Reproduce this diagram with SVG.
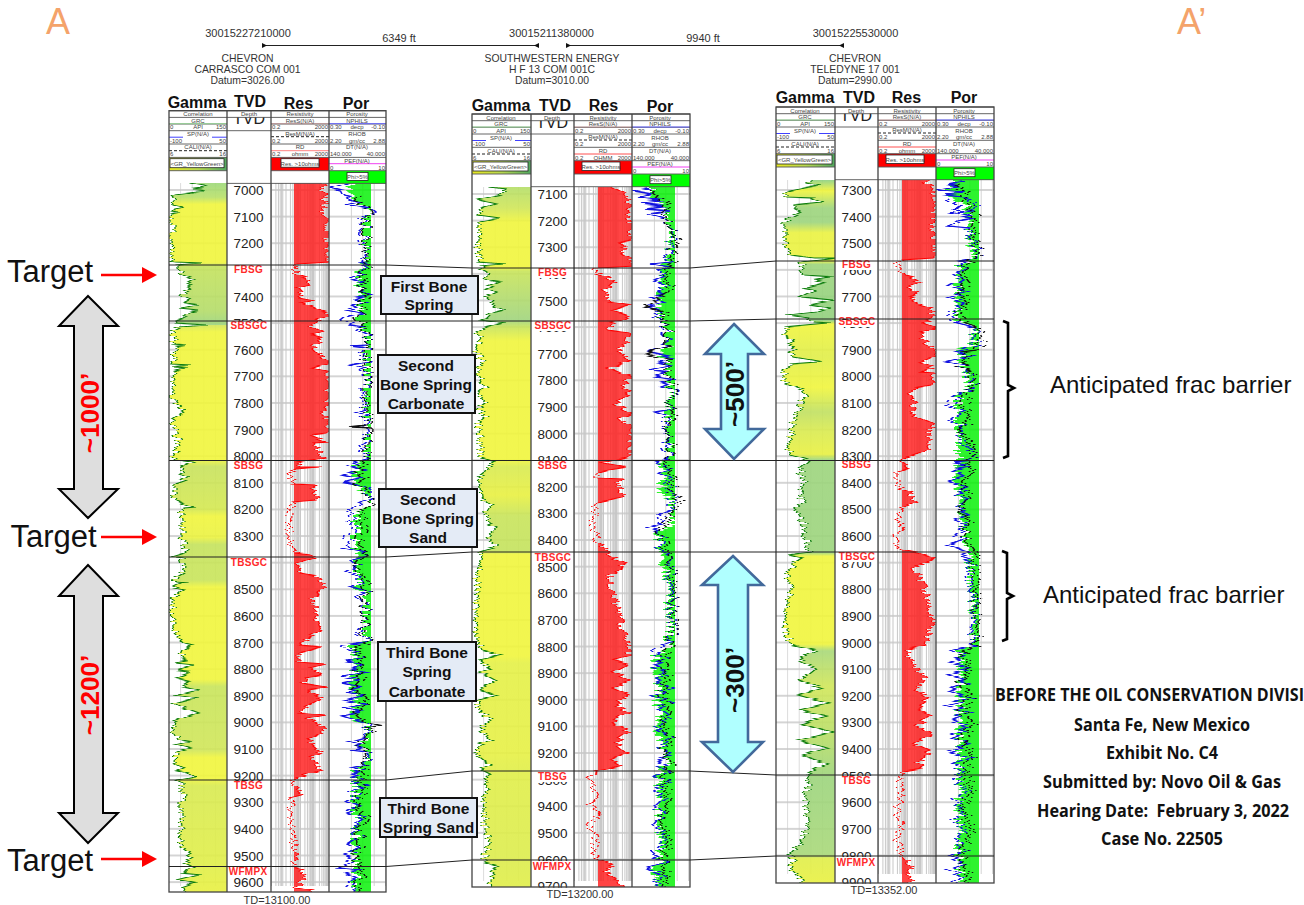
<svg xmlns="http://www.w3.org/2000/svg" width="1304" height="905" viewBox="0 0 1304 905">
<style>
text{font-family:"Liberation Sans",Arial,sans-serif}
.top{font-size:11px;fill:#333;text-anchor:middle}
.nm{font-size:10.4px;fill:#333;text-anchor:middle}
.tt{font-size:16px;font-weight:700;fill:#111;text-anchor:middle}
.t{font-size:6px;fill:#444;text-anchor:middle}
.ts{text-anchor:start}.te{text-anchor:end}
.hl{stroke:#555;stroke-width:.9;fill:none}
.fr{stroke:#444;stroke-width:1.3;fill:none}
.d{font-family:"Noto Sans","Open Sans",sans-serif;font-size:13.5px;fill:#222;text-anchor:middle}
.fm{font-size:10px;font-weight:700;fill:#ff2a2a;text-anchor:middle;letter-spacing:.3px}
.gr{stroke:#0c7c0c;stroke-width:1.2;fill-opacity:.9}
.rf{fill:#ff2020;fill-opacity:.84}
.rs{fill:none;stroke:#f00;stroke-width:1.1}
.bl{fill:none;stroke:#1212e0;stroke-width:1.5}
.bk{fill:none;stroke:#111;stroke-width:1.4}
.gf{fill:#00f000;fill-opacity:.82}
.box{fill:#e4ebf6;stroke:#111;stroke-width:2}
.bt{font-size:15.5px;font-weight:700;fill:#111;text-anchor:middle}
.tg{font-size:31px;fill:#111}
.rar{stroke:#f00;stroke-width:2.6;marker-end:url(#rh)}
.ga{fill:#dedede;stroke:#000;stroke-width:2}
.ba{fill:#b0ffff;stroke:#42699b;stroke-width:2.6}
.ra{font-size:26px;font-weight:700;text-anchor:middle}
.br{fill:none;stroke:#000;stroke-width:2.6}
.ab{font-size:24px;fill:#111}
.cal{font-family:"Open Sans","Noto Sans",sans-serif;font-size:17.5px;font-weight:700;fill:#111;white-space:pre}
.c{fill:none;stroke:#222;stroke-width:1}
</style>
<defs>
<marker id="rh" markerUnits="userSpaceOnUse" markerWidth="16" markerHeight="18" refX="1" refY="8" orient="auto"><path d="M0 0L15 8L0 16Z" fill="#f00"/></marker>
<marker id="ka" markerUnits="userSpaceOnUse" markerWidth="6" markerHeight="6" refX="3" refY="3" orient="auto-start-reverse"><path d="M6 0.5L1 3L6 5.5Z" fill="#111"/></marker>
<filter id="n1" filterUnits="userSpaceOnUse" x="0" y="0" width="1304" height="905" color-interpolation-filters="sRGB">
<feTurbulence type="fractalNoise" baseFrequency="0.004 0.45" numOctaves="2" seed="4" result="t"/>
<feColorMatrix in="t" type="matrix" values="2.6 0 0 0 -.8 0 0 0 0 .5 0 0 0 0 .5 0 0 0 0 1" result="m"/>
<feDisplacementMap in="SourceGraphic" in2="m" scale="8" xChannelSelector="R" yChannelSelector="G"/>
</filter>
<filter id="n2" filterUnits="userSpaceOnUse" x="0" y="0" width="1304" height="905" color-interpolation-filters="sRGB">
<feTurbulence type="fractalNoise" baseFrequency="0.004 0.42" numOctaves="2" seed="11" result="t"/>
<feColorMatrix in="t" type="matrix" values="2.6 0 0 0 -.8 0 0 0 0 .5 0 0 0 0 .5 0 0 0 0 1" result="m"/>
<feDisplacementMap in="SourceGraphic" in2="m" scale="11" xChannelSelector="R" yChannelSelector="G"/>
</filter>
<linearGradient id="hg"><stop offset="0" stop-color="#e8e820"/><stop offset=".5" stop-color="#b8d850"/><stop offset="1" stop-color="#50a860"/></linearGradient>
<linearGradient id="g1" gradientUnits="userSpaceOnUse" x1="0" y1="183" x2="0" y2="892">
<stop offset="0" stop-color="#9cd878"/><stop offset=".02" stop-color="#b8e068"/><stop offset=".03" stop-color="#f0f53c"/><stop offset=".112" stop-color="#f0f53c"/><stop offset=".117" stop-color="#c4e25c"/><stop offset=".18" stop-color="#b4dc68"/><stop offset=".2" stop-color="#9cd47c"/><stop offset=".2" stop-color="#d0e458"/><stop offset=".21" stop-color="#f0f53c"/><stop offset=".39" stop-color="#f0f53c"/><stop offset=".4" stop-color="#c8e25c"/><stop offset=".46" stop-color="#d4e850"/><stop offset=".47" stop-color="#f0f53c"/><stop offset=".5" stop-color="#eaf240"/><stop offset=".51" stop-color="#c4e25c"/><stop offset=".54" stop-color="#c8e45a"/><stop offset=".56" stop-color="#c8e45a"/><stop offset=".57" stop-color="#f0f53c"/><stop offset=".7" stop-color="#f0f53c"/><stop offset=".71" stop-color="#c8e45a"/><stop offset=".8" stop-color="#d0e658"/><stop offset=".81" stop-color="#f0f53c"/><stop offset=".84" stop-color="#f0f53c"/><stop offset=".85" stop-color="#d8ea50"/><stop offset=".96" stop-color="#e0ee48"/><stop offset="1" stop-color="#e8f040"/>
</linearGradient>
<linearGradient id="g2" gradientUnits="userSpaceOnUse" x1="0" y1="187" x2="0" y2="887">
<stop offset="0" stop-color="#b4de68"/><stop offset=".03" stop-color="#d0e658"/><stop offset=".05" stop-color="#f0f53c"/><stop offset=".115" stop-color="#f0f53c"/><stop offset=".12" stop-color="#c8e45a"/><stop offset=".19" stop-color="#a0d47c"/><stop offset=".2" stop-color="#c8e45a"/><stop offset=".22" stop-color="#f0f53c"/><stop offset=".39" stop-color="#f0f53c"/><stop offset=".4" stop-color="#d8ea50"/><stop offset=".44" stop-color="#e8f040"/><stop offset=".47" stop-color="#c8e45a"/><stop offset=".52" stop-color="#c4e25c"/><stop offset=".525" stop-color="#f0f53c"/><stop offset=".67" stop-color="#f0f53c"/><stop offset=".68" stop-color="#e4f046"/><stop offset=".81" stop-color="#e6f044"/><stop offset=".835" stop-color="#e0ee48"/><stop offset=".96" stop-color="#dcec4c"/><stop offset="1" stop-color="#e0ee48"/>
</linearGradient>
<linearGradient id="g3" gradientUnits="userSpaceOnUse" x1="0" y1="180" x2="0" y2="883">
<stop offset="0" stop-color="#8cd080"/><stop offset=".015" stop-color="#f0f53c"/><stop offset=".04" stop-color="#9cd47c"/><stop offset=".06" stop-color="#9cd47c"/><stop offset=".075" stop-color="#eaf240"/><stop offset=".115" stop-color="#eaf240"/><stop offset=".12" stop-color="#9cd47c"/><stop offset=".2" stop-color="#90d07c"/><stop offset=".205" stop-color="#f0f53c"/><stop offset=".25" stop-color="#e0ee48"/><stop offset=".295" stop-color="#f0f53c"/><stop offset=".33" stop-color="#c0e060"/><stop offset=".355" stop-color="#d8ea50"/><stop offset=".39" stop-color="#e8f040"/><stop offset=".398" stop-color="#9cd47c"/><stop offset=".53" stop-color="#9cd47c"/><stop offset=".535" stop-color="#f0f53c"/><stop offset=".66" stop-color="#f0f53c"/><stop offset=".67" stop-color="#a8d878"/><stop offset=".72" stop-color="#d0e658"/><stop offset=".8" stop-color="#b4dc68"/><stop offset=".85" stop-color="#9cd47c"/><stop offset=".96" stop-color="#a8d878"/><stop offset=".965" stop-color="#e0ee48"/><stop offset="1" stop-color="#e8f040"/>
</linearGradient>
<pattern id="pG" patternUnits="userSpaceOnUse" width="58" height="26.62"><path d="M11.6 0V26.62M23.2 0V26.62M34.8 0V26.62M46.4 0V26.62" stroke="#dcdcdc" stroke-width="1" fill="none"/><path d="M0 1H58" stroke="#c6c6c6" stroke-width="1.6"/></pattern>
<pattern id="pR" patternUnits="userSpaceOnUse" width="58" height="26.62"><path d="M1 0V27M5.4 0V27M7.9 0V27M9.7 0V27M11.1 0V27M12.3 0V27M13.3 0V27M14.1 0V27M15.5 0V27M19.9 0V27M22.4 0V27M24.2 0V27M25.6 0V27M26.8 0V27M27.8 0V27M28.6 0V27M30 0V27M34.4 0V27M36.9 0V27M38.7 0V27M40.1 0V27M41.3 0V27M42.3 0V27M43.1 0V27M44.5 0V27M48.9 0V27M51.4 0V27M53.2 0V27M54.6 0V27M55.8 0V27" stroke="#c8c8c8" stroke-width="1" fill="none"/><path d="M0 1H58" stroke="#c6c6c6" stroke-width="1.6"/></pattern>
<pattern id="pP" patternUnits="userSpaceOnUse" width="57" height="26.62"><path d="M11.4 0V27M22.8 0V27M34.2 0V27M45.6 0V27" stroke="#d4d4d4" stroke-width="1" fill="none"/><path d="M0 1H57" stroke="#c6c6c6" stroke-width="1.6"/></pattern>
<clipPath id="ca1"><rect x="169" y="183" width="58" height="709"/></clipPath>
<clipPath id="cb1"><rect x="271" y="183" width="58" height="709"/></clipPath>
<clipPath id="cc1"><rect x="294" y="183" width="35" height="709"/></clipPath>
<clipPath id="cd1"><rect x="329" y="183" width="57" height="709"/></clipPath>
<clipPath id="ce1"><rect x="329" y="183" width="42" height="709"/></clipPath>
<clipPath id="ca2"><rect x="472" y="187" width="59" height="700"/></clipPath>
<clipPath id="cb2"><rect x="574" y="187" width="58" height="700"/></clipPath>
<clipPath id="cc2"><rect x="598" y="187" width="34" height="700"/></clipPath>
<clipPath id="cd2"><rect x="632" y="187" width="58" height="700"/></clipPath>
<clipPath id="ce2"><rect x="632" y="187" width="43" height="700"/></clipPath>
<clipPath id="ca3"><rect x="776" y="180" width="59" height="703"/></clipPath>
<clipPath id="cb3"><rect x="878" y="180" width="58" height="703"/></clipPath>
<clipPath id="cc3"><rect x="902" y="180" width="34" height="703"/></clipPath>
<clipPath id="cd3"><rect x="936" y="180" width="58" height="703"/></clipPath>
<clipPath id="ce3"><rect x="936" y="180" width="43" height="703"/></clipPath>
<clipPath id="tvdc"><rect x="58" y="6.7" width="44" height="13.3"/></clipPath>
<polygon id="r1" points="325,175 325,185 322,190 327,195 323,200 325,205 323,210 327,220 327,240 327,262 295,264 295,265 293,268 298,275 310,279 308,285 298,288 303,293 298,298 313,301 303,303 312,307 318,310 328,313 325,317 318,320 315,323 312,327 322,332 312,335 323,338 312,347 315,350 322,357 328,363 312,368 328,372 328,393 328,403 320,413 328,420 328,433 310,435 328,442 312,443 318,450 322,458 300,462 297,467 319,467 297,469 288,473 293,480 295,484 318,485 312,490 313,493 317,500 294,502 292,507 290,513 289,537 293,548 297,553 312,555 312,558 297,563 300,573 317,576 320,580 323,590 313,597 315,613 322,630 308,638 298,645 322,647 300,653 300,662 328,664 312,668 322,675 305,678 303,683 328,687 307,690 322,697 305,707 302,713 322,715 308,718 322,727 323,733 308,740 322,752 312,757 320,770 305,775 298,778 293,782 295,788 303,795 292,798 290,810 292,827 293,840 297,857 293,867 302,870 303,877 297,888 310,890 312,900 260,900 260,175"/>
<polygon id="r2" points="612,180 612,187 622,192 628,200 632,208 625,215 630,225 632,235 630,240 615,243 625,248 622,252 632,258 632,266 595,268 596,273 606,277 613,283 603,292 606,297 610,302 631,305 615,310 630,315 621,320 611,323 610,330 631,333 628,342 618,348 631,360 610,368 631,377 621,387 631,393 615,403 631,413 621,418 631,427 631,457 603,463 625,467 606,470 595,473 595,478 620,479 618,487 626,497 598,503 595,508 593,523 595,533 598,543 605,550 610,556 625,564 610,575 612,590 620,620 625,640 630,655 612,660 628,665 615,672 630,680 612,688 628,695 615,705 628,712 612,722 630,732 615,742 628,752 610,760 620,766 598,771 590,778 592,790 597,800 590,805 598,815 590,825 596,840 592,852 600,860 612,866 605,872 620,880 625,890 560,900 560,175"/>
<polygon id="r3" points="925,175 925,182 930,185 935,195 933,230 935,240 935,258 900,260 897,265 903,272 902,275 910,277 919,282 910,287 919,295 909,298 919,305 929,308 932,313 935,318 922,323 935,328 919,333 920,338 932,347 935,355 919,362 932,367 922,372 935,373 932,385 915,388 907,395 915,403 910,412 919,418 930,423 932,427 929,435 929,445 925,452 905,459 902,462 909,468 897,472 897,482 900,488 909,492 914,502 900,510 898,518 905,525 897,532 898,545 903,550 919,553 935,558 915,568 925,590 932,620 925,645 905,650 915,665 925,680 918,690 930,698 916,708 932,715 918,725 930,735 915,745 930,752 918,762 925,768 902,772 898,780 903,795 896,810 901,825 897,840 902,853 905,858 912,866 906,874 912,883 905,900 860,900 860,175"/>
<polygon id="p1g" points="350,175 350,183 352,195 362,205 366,215 367,260 360,265 358,290 360,320 364,328 367,336 367,460 355,465 358,490 368,495 368,505 355,515 355,550 358,560 358,590 367,595 367,640 352,645 355,720 368,725 368,740 358,745 367,755 367,765 355,770 355,900 400,900 400,175"/>
<polygon id="p2g" points="650,175 650,195 660,205 668,212 670,260 662,268 660,320 668,328 670,345 660,355 668,362 670,460 660,465 662,495 672,500 672,525 656,535 660,552 668,590 668,650 655,655 658,740 668,760 658,772 660,860 655,870 660,900 710,900 710,175"/>
<polygon id="p3g" points="950,172 950,195 965,205 968,225 972,260 958,265 956,320 974,326 972,345 958,350 965,370 970,388 958,395 958,460 955,470 962,520 968,552 972,600 974,645 960,650 958,855 962,900 1010,900 1010,172"/>
</defs>

<g id="title-a"><text x="46" y="34" font-size="36" fill="#f4a36a">A</text><text x="1177" y="34" font-size="36" fill="#f4a36a">A’</text></g>

<g id="well-1">
<text class="top" x="248" y="37">30015227210000</text>
<text class="nm" x="247.500" y="62">CHEVRON</text><text class="nm" x="247.500" y="72.500">CARRASCO COM 001</text><text class="nm" x="247.500" y="84">Datum=3026.00</text>
<text class="tt" x="197" y="108">Gamma</text><text class="tt" x="250" y="107">TVD</text><text class="tt" x="298.500" y="109">Res</text><text class="tt" x="356" y="109">Por</text>
<rect x="169" y="110.700" width="217" height="781.300" fill="#fff"/>
<g transform="translate(169,189)"><rect x="0" y="-6" width="58" height="703" fill="url(#pG)"/><rect x="102" y="-6" width="58" height="703" fill="url(#pR)"/><rect x="160" y="-6" width="57" height="703" fill="url(#pP)"/></g>
<g clip-path="url(#ca1)"><polygon class="gr" fill="url(#g1)" filter="url(#n1)" points="190,175 190,183 200,185 205,187 190,189 205,191 190,193 175,195 173,197 172,200 173,205 181,207 172,209 174,211 181,212 171,214 172,218 172,240 173,255 172,261 178,262 203,263 180,265 180,268 182,275 192,279 185,283 193,287 185,292 182,296 188,300 182,303 197,305 183,308 202,310 188,313 188,315 182,318 172,321 173,323 207,325 180,327 172,331 174,340 173,344 188,345 174,347 175,360 173,364 192,365 174,367 187,368 172,372 175,380 173,400 175,403 185,412 173,420 175,433 180,443 173,457 176,460 192,462 182,467 180,473 188,477 184,480 173,484 173,493 175,500 192,507 180,508 182,520 182,537 185,550 188,553 175,557 182,558 185,567 182,573 175,577 173,582 183,583 173,588 183,590 172,600 173,627 175,633 185,643 193,645 183,650 180,657 188,660 173,663 192,665 175,670 193,672 175,678 192,682 183,687 197,690 177,695 195,698 175,703 182,707 198,713 185,717 175,722 173,730 178,740 190,742 178,745 188,748 175,752 174,763 182,767 175,770 188,773 193,777 178,780 183,783 183,793 182,803 182,817 183,827 180,847 193,857 185,862 193,866 180,873 200,875 180,880 195,883 180,888 183,895 183,900 240,900 240,175"/></g>
<g clip-path="url(#cc1)"><use href="#r1" class="rf" filter="url(#n1)"/></g>
<g clip-path="url(#cb1)"><use href="#r1" class="rs" filter="url(#n1)"/></g>
<g clip-path="url(#ce1)"><use href="#p1g" class="gf" filter="url(#n2)"/></g>
<g clip-path="url(#cd1)">
<polyline class="bl" filter="url(#n2)" points="345,183 333,188 345,191 343,195 350,197 353,200 360,202 350,205 365,208 370,212 363,218 365,225 363,240 366,250 362,262 368,263 360,266 365,272 352,279 365,283 358,290 368,295 352,298 362,302 347,310 360,313 350,316 345,320 352,325 365,327 360,332 368,336 366,345 350,346 366,348 362,356 367,362 352,365 360,368 365,372 366,380 363,395 365,410 358,413 365,416 362,428 366,440 360,445 368,458 360,461 350,466 362,470 347,475 360,478 345,482 362,485 368,490 368,498 357,503 350,512 352,525 349,535 346,548 362,552 366,556 355,560 361,565 350,572 358,577 358,583 354,586 367,590 358,595 366,605 366,625 360,634 367,642 345,645 348,650 355,652 360,658 346,661 360,664 350,668 362,672 344,676 360,680 347,683 365,687 348,692 362,695 345,700 362,704 346,708 365,712 347,716 366,722 368,730 366,738 352,742 362,746 350,750 365,752 368,756 368,765 355,768 362,771 350,775 360,778 356,782 365,785 352,790 358,797 350,802 360,806 349,812 360,817 352,822 358,827 355,832 361,838 350,845 358,850 345,856 352,860 340,868 357,870 345,875 355,880 350,886 356,892"/>
<polyline class="bk" filter="url(#n2)" points="360,196 358,200 364,206 368,215 366,225 367,240 365,250 367,262 366,268 362,275 366,282 358,290 366,296 360,302 362,310 358,318 366,328 367,345 365,360 367,372 366,390 367,410 366,425 348,427 367,428 366,445 368,458 364,464 358,470 366,478 358,484 366,492 369,505 361,512 362,530 358,545 366,556 358,565 362,575 367,590 363,600 367,620 364,635 368,642 355,650 362,660 356,672 365,680 356,690 366,700 358,712 368,722 369,724 378,726 370,728 372,732 360,745 364,752 367,765 362,775 362,790 358,805 365,815 358,830 362,842 355,858 362,872 358,884 360,892"/>
</g>
<g class="d">
<text x="248.500" y="195">7000</text><text x="248.500" y="221.600">7100</text><text x="248.500" y="248.200">7200</text><text x="248.500" y="301.500">7400</text><text x="248.500" y="328">7500</text><text x="248.500" y="354.700">7600</text><text x="248.500" y="381.300">7700</text><text x="248.500" y="408">7800</text><text x="248.500" y="434.600">7900</text><text x="248.500" y="461">8000</text><text x="248.500" y="487.800">8100</text><text x="248.500" y="514.400">8200</text><text x="248.500" y="541">8300</text><text x="248.500" y="594.300">8500</text><text x="248.500" y="620.900">8600</text><text x="248.500" y="647.500">8700</text><text x="248.500" y="674.200">8800</text><text x="248.500" y="700.800">8900</text><text x="248.500" y="727.400">9000</text><text x="248.500" y="754">9100</text><text x="248.500" y="780.600">9200</text><text x="248.500" y="807.300">9300</text><text x="248.500" y="833.900">9400</text><text x="248.500" y="860.500">9500</text><text x="248.500" y="887">9600</text>
</g>
<g fill="#fff"><rect x="228" y="321" width="42" height="10"/><rect x="228" y="461" width="42" height="10"/><rect x="228" y="781" width="42" height="10"/></g>
<text class="fm" x="248.500" y="273">FBSG</text><text class="fm" x="249" y="329">SBSGC</text><text class="fm" x="248.500" y="469">SBSG</text><text class="fm" x="249" y="566">TBSGC</text><text class="fm" x="248.500" y="789">TBSG</text><text class="fm" x="248" y="875">WFMPX</text>
<g transform="translate(169,110.700)">
<rect x="0" y="46.700" width="58" height="13.300" fill="url(#hg)"/><rect x="1" y="48" width="54" height="9" fill="#fff" stroke="#222" stroke-width=".8"/>
<rect x="102" y="46.700" width="58" height="13.300" fill="#f00"/><rect x="112" y="48" width="38" height="8.500" fill="#fff" stroke="#222" stroke-width=".8"/>
<rect x="160" y="60" width="57" height="13" fill="#00ff00"/><rect x="178" y="61.700" width="21" height="8" fill="#fff" stroke="#222" stroke-width=".8"/>
<path class="hl" d="M0 0H217M0 6.700H217M0 13.300H58M102 13.300H217M0 20H217M0 33.300H58M102 33.300H217M0 46.700H58M102 46.700H217M0 60H58M102 60H217M58 72.700H217"/>
<path d="M0 13H58" stroke="#90d090"/><path d="M160 13H217" stroke="#6060ff"/><path d="M102 13H160" stroke="#c08080" stroke-width=".6"/><path d="M0 26.500H14M43 26.500H58" stroke="#4040ff"/><path d="M0 40H58M102 26H160" stroke="#222" stroke-dasharray="3 2"/><path d="M102 40H160" stroke="#ff8080"/><path d="M160 53H217" stroke="#f040f0"/>
<text class="t" x="29" y="5.500">Correlation</text><text class="t" x="29" y="12">GRC</text><text class="t ts" x="1" y="18.800">0</text><text class="t" x="29" y="18.800">API</text><text class="t te" x="57" y="18.800">150</text>
<text class="t" x="29" y="25.500">SP(N/A)</text><text class="t ts" x="1" y="32">-100</text><text class="t te" x="57" y="32">50</text><text class="t" x="29" y="38.500">CALI(N/A)</text><text class="t ts" x="1" y="45.500">6</text><text class="t te" x="57" y="45.500">16</text><text class="t" x="28" y="55">&lt;GR_YellowGreen&gt;</text>
<text class="t" x="80" y="5.500">Depth</text><g clip-path="url(#tvdc)"><text x="80" y="13.500" font-size="16" fill="#222" text-anchor="middle">TVD</text></g>
<text class="t" x="131" y="5.500">Resistivity</text><text class="t" x="131" y="12">ResS(N/A)</text><text class="t ts" x="103" y="18.800">0.2</text><text class="t te" x="159" y="18.800">2000</text><text class="t" x="131" y="25">ResM(N/A)</text><text class="t ts" x="103" y="32">0.2</text><text class="t te" x="159" y="32">2000</text><text class="t" x="131" y="38.500">RD</text><text class="t ts" x="103" y="45.500">0.2</text><text class="t" x="131" y="45.500">ohmm</text><text class="t te" x="159" y="45.500">2000</text><text class="t" x="131" y="55">Res. &gt;10ohms</text>
<text class="t" x="188" y="5.500">Porosity</text><text class="t" x="188" y="12">NPHILS</text><text class="t ts" x="161" y="18.800">0.30</text><text class="t" x="188" y="18.800">decp</text><text class="t te" x="216" y="18.800">-0.10</text><text class="t" x="188" y="25.500">RHOB</text><text class="t ts" x="161" y="32">2.20</text><text class="t" x="188" y="32">gm/cc</text><text class="t te" x="216" y="32">2.88</text><text class="t" x="188" y="38.500">DT(N/A)</text><text class="t ts" x="161" y="45.500">140.000</text><text class="t te" x="216" y="45.500">40.000</text><text class="t" x="188" y="52">PEF(N/A)</text><text class="t ts" x="161" y="59">0</text><text class="t te" x="216" y="59">10</text><text class="t" x="188.500" y="68">Phi&gt;5%</text>
</g>
<rect class="fr" x="169" y="110.700" width="217" height="781.300"/><path class="fr" d="M227 110.700V892M271 110.700V892M329 110.700V892"/>
<text class="top" x="277" y="904">TD=13100.00</text>
</g>

<g id="well-2">
<text class="top" x="551.500" y="37">30015211380000</text>
<text class="nm" x="552" y="62">SOUTHWESTERN ENERGY</text><text class="nm" x="552" y="72.500">H F 13 COM 001C</text><text class="nm" x="552" y="84">Datum=3010.00</text>
<text class="tt" x="501" y="111">Gamma</text><text class="tt" x="555" y="111">TVD</text><text class="tt" x="603.500" y="111">Res</text><text class="tt" x="660" y="112">Por</text>
<rect x="472" y="114" width="218" height="773" fill="#fff"/>
<g transform="translate(472,193)"><rect x="0" y="-6" width="59" height="694" fill="url(#pG)"/><rect x="102" y="-6" width="58" height="694" fill="url(#pR)"/><rect x="160" y="-6" width="58" height="694" fill="url(#pP)"/></g>
<g clip-path="url(#ca2)"><polygon class="gr" fill="url(#g2)" filter="url(#n1)" points="490,178 490,187 505,189 500,195 490,197 477,200 495,204 482,208 479,215 500,218 480,222 480,230 479,240 478,250 480,255 478,262 505,264 483,266 481,268 488,272 486,280 500,282 486,288 496,292 486,297 491,302 496,307 503,310 491,313 486,318 481,320 503,323 486,327 478,332 480,340 476,350 483,363 478,367 478,375 485,387 478,393 485,403 478,408 485,417 478,423 480,437 480,457 495,462 488,467 485,473 478,478 480,487 481,497 491,505 486,513 488,523 496,527 488,537 496,547 481,552 482,555 480,565 476,575 478,590 476,610 477,640 482,650 500,655 480,660 490,668 480,672 495,680 480,690 495,695 478,700 480,710 490,720 480,730 490,740 478,745 477,755 490,765 480,770 490,775 485,780 488,790 483,800 485,820 485,830 490,840 485,855 485,862 498,866 490,870 495,875 490,880 492,900 545,900 545,178"/></g>
<g clip-path="url(#cc2)"><use href="#r2" class="rf" filter="url(#n1)"/></g>
<g clip-path="url(#cb2)"><use href="#r2" class="rs" filter="url(#n1)"/></g>
<g clip-path="url(#ce2)"><use href="#p2g" class="gf" filter="url(#n2)"/></g>
<g clip-path="url(#cd2)">
<polyline class="bl" filter="url(#n2)" points="648,188 634,191 652,194 641,197 662,200 640,203 668,206 645,209 672,211 652,214 665,218 668,225 672,232 671,250 667,255 672,262 655,264 670,267 660,270 664,276 655,280 664,285 660,290 668,294 655,298 662,302 650,306 662,310 655,316 660,320 665,326 664,332 672,340 667,345 650,352 672,357 658,362 670,365 652,370 668,372 655,377 672,380 660,384 673,390 670,400 672,410 660,412 668,415 666,425 672,440 664,445 672,458 660,462 668,468 658,473 666,478 670,486 672,495 672,510 660,515 662,523 650,527 662,532 658,545 663,552 668,555 672,565 668,580 672,600 670,620 673,640 660,645 655,652 666,660 652,665 668,672 654,680 668,688 655,695 670,702 656,710 668,718 658,728 670,735 660,745 670,755 655,762 668,770 658,776 668,782 655,790 664,798 655,806 664,815 655,825 665,835 660,845 652,855 665,862 650,868 665,875 655,882 662,887"/>
<polyline class="bk" filter="url(#n2)" points="650,190 668,205 665,212 668,225 672,235 678,243 672,250 677,262 668,268 666,280 672,292 646,306 666,312 660,320 668,328 669,345 646,354 668,360 668,375 672,385 670,405 678,412 668,425 672,445 670,460 666,470 672,480 673,495 680,500 674,510 668,520 660,530 664,545 668,552 671,570 673,600 672,630 670,645 664,660 668,675 660,690 668,705 662,720 670,735 664,750 670,765 664,780 668,800 662,820 668,840 664,858 668,872 664,887"/>
</g>
<g class="d">
<text x="552.500" y="199">7100</text><text x="552.500" y="225.600">7200</text><text x="552.500" y="252.200">7300</text><text x="552.500" y="279">7400</text><text x="552.500" y="305.500">7500</text><text x="552.500" y="332">7600</text><text x="552.500" y="358.700">7700</text><text x="552.500" y="385.300">7800</text><text x="552.500" y="412">7900</text><text x="552.500" y="438.600">8000</text><text x="552.500" y="465.200">8100</text><text x="552.500" y="491.800">8200</text><text x="552.500" y="518.400">8300</text><text x="552.500" y="545">8400</text><text x="552.500" y="571.700">8500</text><text x="552.500" y="598.300">8600</text><text x="552.500" y="624.900">8700</text><text x="552.500" y="651.500">8800</text><text x="552.500" y="678.200">8900</text><text x="552.500" y="704.800">9000</text><text x="552.500" y="731.400">9100</text><text x="552.500" y="758">9200</text><text x="552.500" y="784.600">9300</text><text x="552.500" y="811.300">9400</text><text x="552.500" y="837.900">9500</text><text x="552.500" y="864.500">9600</text><text x="552.500" y="891">9700</text>
</g>
<g fill="#fff"><rect x="532" y="269" width="41" height="9"/><rect x="532" y="322" width="41" height="9"/><rect x="532" y="461" width="41" height="10"/><rect x="532" y="553" width="41" height="10"/><rect x="532" y="771" width="41" height="11"/><rect x="532" y="861" width="41" height="11"/><rect x="531" y="887.700" width="43" height="5"/></g>
<text class="fm" x="552.500" y="276">FBSG</text><text class="fm" x="553" y="329">SBSGC</text><text class="fm" x="552.500" y="469">SBSG</text><text class="fm" x="553" y="561">TBSGC</text><text class="fm" x="552.500" y="780">TBSG</text><text class="fm" x="552" y="870">WFMPX</text>
<g transform="translate(472,114)">
<rect x="0" y="46.700" width="59" height="13.300" fill="url(#hg)"/><rect x="1" y="48" width="55" height="9" fill="#fff" stroke="#222" stroke-width=".8"/>
<rect x="102" y="46.700" width="58" height="13.300" fill="#f00"/><rect x="110" y="48" width="38" height="8.500" fill="#fff" stroke="#222" stroke-width=".8"/>
<rect x="160" y="60" width="58" height="13" fill="#00ff00"/><rect x="178" y="61.700" width="21" height="8" fill="#fff" stroke="#222" stroke-width=".8"/>
<path class="hl" d="M0 0H218M0 6.700H218M0 13.300H59M102 13.300H218M0 20H218M0 33.300H59M102 33.300H218M0 46.700H59M102 46.700H218M0 60H59M102 60H218M59 72.700H218"/>
<path d="M0 13H59" stroke="#90d090"/><path d="M160 13H218" stroke="#6060ff"/><path d="M102 13H160" stroke="#c08080" stroke-width=".6"/><path d="M0 26.500H14M43 26.500H59" stroke="#4040ff"/><path d="M0 40H59M102 26H160" stroke="#222" stroke-dasharray="3 2"/><path d="M102 40H160" stroke="#ff5050"/><path d="M160 53H218" stroke="#f040f0"/>
<text class="t" x="29" y="5.500">Correlation</text><text class="t" x="29" y="12">GRC</text><text class="t ts" x="1" y="18.800">0</text><text class="t" x="29" y="18.800">API</text><text class="t te" x="58" y="18.800">150</text>
<text class="t" x="29" y="25.500">SP(N/A)</text><text class="t ts" x="1" y="32">-100</text><text class="t te" x="58" y="32">50</text><text class="t" x="29" y="38.500">CALI(N/A)</text><text class="t ts" x="1" y="45.500">6</text><text class="t te" x="58" y="45.500">16</text><text class="t" x="28.500" y="55">&lt;GR_YellowGreen&gt;</text>
<text class="t" x="80" y="5.500">Depth</text><g clip-path="url(#tvdc)"><text x="80" y="13.500" font-size="16" fill="#222" text-anchor="middle">TVD</text></g>
<text class="t" x="131" y="5.500">Resistivity</text><text class="t" x="131" y="12">ResS(N/A)</text><text class="t ts" x="103" y="18.800">0.2</text><text class="t te" x="159" y="18.800">2000</text><text class="t" x="131" y="25">ResM(N/A)</text><text class="t ts" x="103" y="32">0.2</text><text class="t te" x="159" y="32">2000</text><text class="t" x="131" y="38.500">RD</text><text class="t ts" x="103" y="45.500">0.2</text><text class="t" x="131" y="45.500">OHMM</text><text class="t te" x="159" y="45.500">2000</text><text class="t" x="129" y="55">Res. &gt;10ohms</text>
<text class="t" x="188" y="5.500">Porosity</text><text class="t" x="188" y="12">NPHILS</text><text class="t ts" x="161" y="18.800">0.30</text><text class="t" x="188" y="18.800">decp</text><text class="t te" x="217" y="18.800">-0.10</text><text class="t" x="188" y="25.500">RHOB</text><text class="t ts" x="161" y="32">2.20</text><text class="t" x="188" y="32">gm/cc</text><text class="t te" x="217" y="32">2.88</text><text class="t" x="188" y="38.500">DT(N/A)</text><text class="t ts" x="161" y="45.500">140.000</text><text class="t te" x="217" y="45.500">40.000</text><text class="t" x="188" y="52">PEF(N/A)</text><text class="t ts" x="161" y="59">0</text><text class="t te" x="217" y="59">10</text><text class="t" x="188.500" y="68">Phi&gt;5%</text>
</g>
<rect class="fr" x="472" y="114" width="218" height="773"/><path class="fr" d="M531 114V887M574 114V887M632 114V887"/>
<text class="top" x="580" y="898">TD=13200.00</text>
</g>

<g id="well-3">
<text class="top" x="855.500" y="37">30015225530000</text>
<text class="nm" x="855" y="62">CHEVRON</text><text class="nm" x="855" y="72.500">TELEDYNE 17 001</text><text class="nm" x="855" y="84">Datum=2990.00</text>
<text class="tt" x="805" y="103">Gamma</text><text class="tt" x="859" y="103">TVD</text><text class="tt" x="906.500" y="103">Res</text><text class="tt" x="964" y="103">Por</text>
<rect x="776" y="107" width="218" height="776" fill="#fff"/>
<g transform="translate(776,189)"><rect x="0" y="-9" width="59" height="694" fill="url(#pG)"/><rect x="102" y="-9" width="58" height="694" fill="url(#pR)"/><rect x="160" y="-9" width="58" height="694" fill="url(#pP)"/></g>
<g clip-path="url(#ca3)"><polygon class="gr" fill="url(#g3)" filter="url(#n1)" points="810,172 810,183 820,185 802,188 785,192 785,197 813,198 823,202 792,205 792,208 800,212 790,217 785,222 785,242 790,255 813,258 835,258 802,262 804,268 802,275 833,277 814,280 825,283 805,288 816,290 802,297 833,300 807,305 827,308 814,312 789,315 809,318 812,322 829,323 785,327 785,335 794,342 789,345 795,350 790,353 792,357 820,362 792,364 785,370 785,383 795,387 802,390 805,395 800,405 797,412 794,418 792,432 787,445 792,455 805,459 809,462 802,468 800,475 805,482 800,492 802,502 795,510 800,518 805,525 802,530 805,535 809,548 811,552 789,555 802,558 795,562 795,565 788,575 790,590 787,610 785,630 792,645 815,650 800,660 815,668 800,680 822,688 800,695 828,703 800,710 826,716 802,724 830,732 800,740 825,748 802,756 826,764 805,775 808,785 805,800 808,820 804,840 790,855 795,860 790,870 800,880 800,900 850,900 850,172"/></g>
<g clip-path="url(#cc3)"><use href="#r3" class="rf" filter="url(#n1)"/></g>
<g clip-path="url(#cb3)"><use href="#r3" class="rs" filter="url(#n1)"/></g>
<g clip-path="url(#ce3)"><use href="#p3g" class="gf" filter="url(#n2)"/></g>
<g clip-path="url(#cd3)">
<polyline class="bl" filter="url(#n2)" points="960,181 945,184 958,186 940,190 960,192 945,194 965,197 972,200 974,205 975,210 960,213 950,199 965,216 950,212 972,218 955,221 948,226 968,228 970,235 975,245 977,255 975,259 958,262 965,268 955,274 963,280 952,286 966,292 951,297 964,303 955,308 950,316 956,322 975,328 975,345 965,350 958,352 970,356 950,362 962,365 968,372 972,380 975,388 965,392 955,398 950,405 962,412 953,420 965,428 958,436 964,445 975,452 970,460 950,462 968,466 952,470 964,476 952,482 968,488 956,494 966,500 958,508 970,514 956,520 966,526 955,534 964,540 950,546 966,552 958,556 972,562 968,575 972,590 975,610 972,630 975,645 955,650 965,656 950,662 970,668 948,675 968,682 950,690 970,698 948,705 968,712 950,720 968,728 952,736 968,744 950,752 968,758 955,765 962,772 956,780 965,790 955,800 964,810 955,820 962,830 956,840 965,850 950,858 962,864 950,870 960,876 952,883"/>
<polyline class="bk" filter="url(#n2)" points="955,184 965,192 968,205 975,215 972,225 975,238 978,250 975,258 966,264 962,274 968,282 960,292 968,302 958,312 965,322 978,328 982,338 978,350 964,352 968,362 960,366 972,372 975,385 968,392 964,405 970,420 960,432 972,445 975,452 966,463 972,472 964,484 968,496 960,510 970,520 964,532 970,545 975,552 974,565 977,585 976,610 978,630 976,645 962,655 970,668 960,682 972,695 962,710 972,725 962,740 972,755 966,770 970,790 964,810 970,830 964,850 960,862 968,875 965,883"/>
</g>
<g class="d">
<text x="856.500" y="195">7300</text><text x="856.500" y="221.600">7400</text><text x="856.500" y="248.200">7500</text><text x="856.500" y="275">7600</text><text x="856.500" y="301.500">7700</text><text x="856.500" y="328">7800</text><text x="856.500" y="354.700">7900</text><text x="856.500" y="381.300">8000</text><text x="856.500" y="408">8100</text><text x="856.500" y="434.600">8200</text><text x="856.500" y="461">8300</text><text x="856.500" y="487.800">8400</text><text x="856.500" y="514.400">8500</text><text x="856.500" y="541">8600</text><text x="856.500" y="567.700">8700</text><text x="856.500" y="594.300">8800</text><text x="856.500" y="620.900">8900</text><text x="856.500" y="647.500">9000</text><text x="856.500" y="674.200">9100</text><text x="856.500" y="700.800">9200</text><text x="856.500" y="727.400">9300</text><text x="856.500" y="754">9400</text><text x="856.500" y="780.600">9500</text><text x="856.500" y="807.300">9600</text><text x="856.500" y="833.900">9700</text><text x="856.500" y="860.500">9800</text><text x="856.500" y="887">9900</text>
</g>
<g fill="#fff"><rect x="836" y="262" width="41" height="8"/><rect x="836" y="320" width="41" height="7"/><rect x="836" y="461" width="41" height="9"/><rect x="836" y="553" width="41" height="9"/><rect x="836" y="776" width="41" height="10"/><rect x="836" y="857" width="41" height="11"/><rect x="835" y="883.700" width="43" height="5"/></g>
<text class="fm" x="856.500" y="268">FBSG</text><text class="fm" x="857" y="325">SBSGC</text><text class="fm" x="856.500" y="468">SBSG</text><text class="fm" x="857" y="560">TBSGC</text><text class="fm" x="856.500" y="784">TBSG</text><text class="fm" x="856" y="866">WFMPX</text>
<g transform="translate(776,107)">
<rect x="0" y="46.700" width="59" height="13.300" fill="url(#hg)"/><rect x="1" y="48" width="55" height="9" fill="#fff" stroke="#222" stroke-width=".8"/>
<rect x="102" y="46.700" width="58" height="13.300" fill="#f00"/><rect x="110" y="48" width="38" height="8.500" fill="#fff" stroke="#222" stroke-width=".8"/>
<rect x="160" y="60" width="58" height="13" fill="#00ff00"/><rect x="178" y="61.700" width="21" height="8" fill="#fff" stroke="#222" stroke-width=".8"/>
<path class="hl" d="M0 0H218M0 6.700H218M0 13.300H59M102 13.300H218M0 20H218M0 33.300H59M102 33.300H218M0 46.700H59M102 46.700H218M0 60H59M102 60H218M59 72.700H218"/>
<path d="M0 13H59" stroke="#90d090"/><path d="M160 13H218" stroke="#6060ff"/><path d="M102 13H160" stroke="#c08080" stroke-width=".6"/><path d="M0 26.500H14M43 26.500H59" stroke="#4040ff"/><path d="M0 40H59M102 26H160" stroke="#222" stroke-dasharray="3 2"/><path d="M102 40H160" stroke="#ff5050"/><path d="M160 53H218" stroke="#f040f0"/>
<text class="t" x="29" y="5.500">Correlation</text><text class="t" x="29" y="12">GRC</text><text class="t ts" x="1" y="18.800">0</text><text class="t" x="29" y="18.800">API</text><text class="t te" x="58" y="18.800">150</text>
<text class="t" x="29" y="25.500">SP(N/A)</text><text class="t ts" x="1" y="32">-100</text><text class="t te" x="58" y="32">50</text><text class="t" x="29" y="38.500">CALI(N/A)</text><text class="t ts" x="1" y="45.500">6</text><text class="t te" x="58" y="45.500">16</text><text class="t" x="28.500" y="55">&lt;GR_YellowGreen&gt;</text>
<text class="t" x="80" y="5.500">Depth</text><g clip-path="url(#tvdc)"><text x="80" y="13.500" font-size="16" fill="#222" text-anchor="middle">TVD</text></g>
<text class="t" x="131" y="5.500">Resistivity</text><text class="t" x="131" y="12">ResS(N/A)</text><text class="t ts" x="103" y="18.800">0.2</text><text class="t te" x="159" y="18.800">2000</text><text class="t" x="131" y="25">ResM(N/A)</text><text class="t ts" x="103" y="32">0.2</text><text class="t te" x="159" y="32">2000</text><text class="t" x="131" y="38.500">RD</text><text class="t ts" x="103" y="45.500">0.2</text><text class="t" x="131" y="45.500">ohmm</text><text class="t te" x="159" y="45.500">2000</text><text class="t" x="129" y="55">Res. &gt;10ohms</text>
<text class="t" x="188" y="5.500">Porosity</text><text class="t" x="188" y="12">NPHILS</text><text class="t ts" x="161" y="18.800">0.30</text><text class="t" x="188" y="18.800">decp</text><text class="t te" x="217" y="18.800">-0.10</text><text class="t" x="188" y="25.500">RHOB</text><text class="t ts" x="161" y="32">2.20</text><text class="t" x="188" y="32">gm/cc</text><text class="t te" x="217" y="32">2.88</text><text class="t" x="188" y="38.500">DT(N/A)</text><text class="t ts" x="161" y="45.500">140.000</text><text class="t te" x="217" y="45.500">40.000</text><text class="t" x="188" y="52">PEF(N/A)</text><text class="t ts" x="161" y="59">0</text><text class="t te" x="217" y="59">10</text><text class="t" x="188.500" y="68">Phi&gt;5%</text>
</g>
<rect class="fr" x="776" y="107" width="218" height="776"/><path class="fr" d="M835 107V883M878 107V883M936 107V883"/>
<text class="top" x="884" y="894">TD=13352.00</text>
</g>

<g id="connectors">
<polyline class="c" points="169,265 386,265 472,268 690,268 776,261 994,261"/>
<polyline class="c" points="169,321 386,321 472,321 690,321 776,319 994,319"/>
<polyline class="c" points="169,460.500 386,460.500 472,460.500 690,460.500 776,460.500 994,460.500"/>
<polyline class="c" points="169,557 386,557 472,552 690,552 776,552 994,552"/>
<polyline class="c" points="169,780 386,780 472,771 690,771 776,775 994,775"/>
<polyline class="c" points="169,866.500 386,866.500 472,860 690,860 776,856 994,856"/>
<line x1="265" y1="45.500" x2="536" y2="45.500" stroke="#222" stroke-width="1" marker-start="url(#ka)" marker-end="url(#ka)"/>
<line x1="569" y1="45.500" x2="841" y2="45.500" stroke="#222" stroke-width="1" marker-start="url(#ka)" marker-end="url(#ka)"/>
<text class="top" x="399" y="42">6349 ft</text><text class="top" x="703" y="42">9940 ft</text>
</g>

<g id="box-first-bone-spring"><rect class="box" x="381" y="276" width="97" height="38"/><text class="bt" x="429" y="292">First Bone</text><text class="bt" x="429" y="310">Spring</text></g>
<g id="box-second-bone-spring-carbonate"><rect class="box" x="378" y="355" width="97" height="58"/><text class="bt" x="426" y="371">Second</text><text class="bt" x="426" y="390">Bone Spring</text><text class="bt" x="426" y="409">Carbonate</text></g>
<g id="box-second-bone-spring-sand"><rect class="box" x="379" y="489" width="98" height="58"/><text class="bt" x="428" y="505">Second</text><text class="bt" x="428" y="524">Bone Spring</text><text class="bt" x="428" y="543">Sand</text></g>
<g id="box-third-bone-spring-carbonate"><rect class="box" x="378" y="642" width="98" height="59"/><text class="bt" x="427" y="658">Third Bone</text><text class="bt" x="427" y="677">Spring</text><text class="bt" x="427" y="697">Carbonate</text></g>
<g id="box-third-bone-spring-sand"><rect class="box" x="380" y="798" width="97" height="39"/><text class="bt" x="428.500" y="814">Third Bone</text><text class="bt" x="428.500" y="833">Spring Sand</text></g>

<g id="targets">
<text class="tg" x="7" y="282">Target</text><line class="rar" x1="101" y1="275" x2="143" y2="275"/>
<text class="tg" x="10.500" y="547">Target</text><line class="rar" x1="101" y1="537" x2="143" y2="537"/>
<text class="tg" x="7" y="871">Target</text><line class="rar" x1="101" y1="859" x2="143" y2="859"/>
</g>
<g id="arrow-1000"><path class="ga" d="M88 296L118 326H103V489H118L88 518L59 489H74V326H59Z"/><text class="ra" fill="#f00" transform="translate(99,413) rotate(-90)">~1000’</text></g>
<g id="arrow-1200"><path class="ga" d="M88 565L118 596H103V813H118L88 843L59 813H74V596H59Z"/><text class="ra" fill="#f00" transform="translate(99,695) rotate(-90)">~1200’</text></g>
<g id="arrow-500"><path class="ba" d="M734 324L764 354H748V429H764L734 459L705 429H721V354H705Z"/><text class="ra" fill="#111" transform="translate(744,394) rotate(-90)">~500’</text></g>
<g id="arrow-300"><path class="ba" d="M733 556L763 585H748V742H763L733 772L702 742H718V585H702Z"/><text class="ra" fill="#111" transform="translate(744,680) rotate(-90)">~300’</text></g>

<g id="frac-barrier-1"><path class="br" d="M1003 321L1008 323V385L1014 388L1008 391V456L1003 458"/><text class="ab" x="1050" y="393">Anticipated frac barrier</text></g>
<g id="frac-barrier-2"><path class="br" d="M1002 551L1007 553V593L1013 596L1007 599V639L1002 641"/><text class="ab" x="1043" y="603">Anticipated frac barrier</text></g>

<g id="exhibit">
<text class="cal" x="995" y="701" textLength="309" lengthAdjust="spacingAndGlyphs">BEFORE THE OIL CONSERVATION DIVISI</text>
<text class="cal" x="1074" y="731" textLength="176" lengthAdjust="spacingAndGlyphs">Santa Fe, New Mexico</text>
<text class="cal" x="1106" y="759" textLength="112" lengthAdjust="spacingAndGlyphs">Exhibit No. C4</text>
<text class="cal" x="1043" y="788" textLength="238" lengthAdjust="spacingAndGlyphs">Submitted by: Novo Oil &amp; Gas</text>
<text class="cal" x="1037" y="817" textLength="252" lengthAdjust="spacingAndGlyphs">Hearing Date:  February 3, 2022</text>
<text class="cal" x="1101" y="845" textLength="122" lengthAdjust="spacingAndGlyphs">Case No. 22505</text>
</g>
</svg>
